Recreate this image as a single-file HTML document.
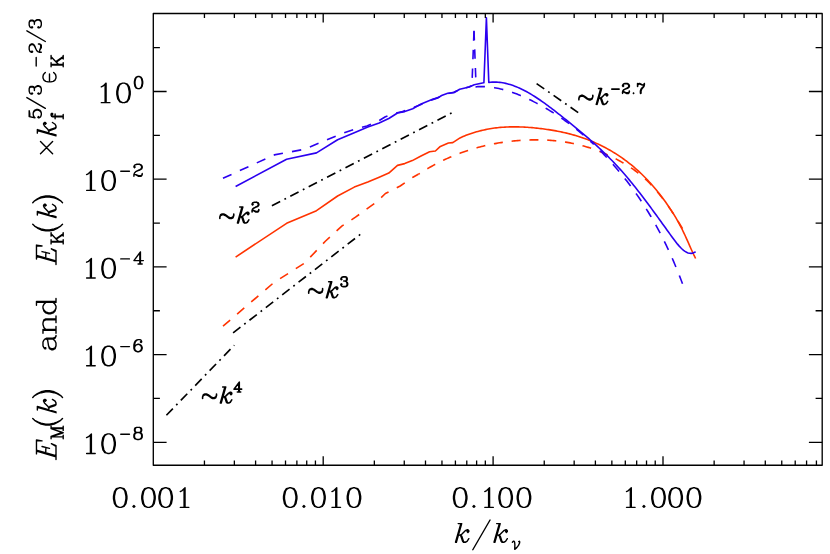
<!DOCTYPE html>
<html><head><meta charset="utf-8"><title>spectra</title>
<style>html,body{margin:0;padding:0;background:#fff;font-family:"Liberation Sans",sans-serif;}svg{display:block}</style>
</head><body>
<svg width="830" height="554" viewBox="0 0 830 554">
<rect width="830" height="554" fill="#fff"/>
<path d="M235.60 257.10 L286.60 223.30 L316.50 210.70 L337.60 196.00 L354.30 187.10 L367.80 182.00 L379.20 177.20 L388.80 173.10 L397.50 165.40 L404.70 163.60 L412.30 160.60 L421.00 156.00 L429.60 151.70 L435.40 151.00 L439.80 146.80 L448.40 143.00 L452.80 142.60 L460.00 137.90 L460.00 137.90 L461.50 137.23 L463.00 136.58 L464.50 135.96 L466.00 135.36 L467.50 134.79 L469.00 134.24 L470.50 133.71 L472.01 133.20 L473.51 132.72 L475.01 132.26 L476.51 131.82 L478.01 131.40 L479.51 131.00 L481.01 130.62 L482.51 130.26 L484.01 129.92 L485.51 129.60 L487.01 129.30 L488.51 129.02 L490.01 128.76 L491.51 128.52 L493.01 128.29 L494.51 128.08 L496.02 127.89 L497.52 127.72 L499.02 127.56 L500.52 127.42 L502.02 127.30 L503.52 127.19 L505.02 127.09 L506.52 127.01 L508.02 126.95 L509.52 126.90 L511.02 126.87 L512.52 126.84 L514.02 126.84 L515.52 126.84 L517.02 126.86 L518.52 126.89 L520.03 126.93 L521.53 126.99 L523.03 127.05 L524.53 127.13 L526.03 127.22 L527.53 127.32 L529.03 127.43 L530.53 127.55 L532.03 127.67 L533.53 127.81 L535.03 127.96 L536.53 128.11 L538.03 128.28 L539.53 128.45 L541.03 128.63 L542.54 128.82 L544.04 129.01 L545.54 129.22 L547.04 129.43 L548.54 129.65 L550.04 129.88 L551.54 130.13 L553.04 130.38 L554.54 130.64 L556.04 130.91 L557.54 131.19 L559.04 131.49 L560.54 131.79 L562.04 132.11 L563.54 132.44 L565.04 132.78 L566.55 133.13 L568.05 133.50 L569.55 133.88 L571.05 134.28 L572.55 134.68 L574.05 135.11 L575.55 135.54 L577.05 136.00 L578.55 136.46 L580.05 136.94 L581.55 137.44 L583.05 137.96 L584.55 138.49 L586.05 139.03 L587.55 139.60 L589.05 140.18 L590.56 140.78 L592.06 141.40 L593.56 142.03 L595.06 142.68 L596.56 143.36 L598.06 144.05 L599.56 144.76 L601.06 145.49 L602.56 146.24 L604.06 147.01 L605.56 147.80 L607.06 148.61 L608.56 149.44 L610.06 150.30 L611.56 151.18 L613.06 152.07 L614.57 153.00 L616.07 153.94 L617.57 154.91 L619.07 155.90 L620.57 156.91 L622.07 157.95 L623.57 159.01 L625.07 160.10 L626.57 161.22 L628.07 162.36 L629.57 163.53 L631.07 164.74 L632.57 165.97 L634.07 167.23 L635.57 168.52 L637.08 169.84 L638.58 171.20 L640.08 172.59 L641.58 174.02 L643.08 175.48 L644.58 176.97 L646.08 178.50 L647.58 180.07 L649.08 181.68 L650.58 183.33 L652.08 185.01 L653.58 186.74 L655.08 188.51 L656.58 190.32 L658.08 192.17 L659.58 194.06 L661.09 196.00 L662.59 197.98 L664.09 200.01 L665.59 202.09 L667.09 204.21 L668.59 206.38 L670.09 208.61 L671.59 210.90 L673.09 213.25 L674.59 215.68 L676.09 218.20 L677.59 220.81 L679.09 223.52 L680.59 226.33 L682.09 229.26 L683.59 232.31 L685.10 235.49 L686.60 238.80 L688.10 242.18 L689.60 245.58 L691.10 248.97 L692.60 252.28 L694.10 255.48 L695.60 258.50" fill="none" stroke="#ff3300" stroke-width="1.60" stroke-linejoin="round"/>
<path d="M223.00 326.20 L274.30 282.20 L304.50 263.20 L325.60 241.00 L342.10 225.90 L355.50 217.20 L366.90 208.80 L376.70 201.90 L385.40 193.50 L393.20 189.60 L400.20 186.00 L406.60 181.60 L412.50 177.50 L418.30 174.30" fill="none" stroke="#ff3300" stroke-width="1.60" stroke-linejoin="round" stroke-dasharray="9.4 9.2" stroke-dashoffset="0.00"/>
<path d="M418.30 174.30 L419.80 173.34 L421.31 172.39 L422.81 171.45 L424.32 170.54 L425.82 169.64 L427.32 168.75 L428.83 167.88 L430.33 167.03 L431.84 166.19 L433.34 165.37 L434.84 164.56 L436.35 163.77 L437.85 162.99 L439.36 162.23 L440.86 161.48 L442.36 160.75 L443.87 160.03 L445.37 159.33 L446.88 158.64 L448.38 157.97 L449.88 157.31 L451.39 156.66 L452.89 156.03 L454.40 155.41 L455.90 154.81 L457.40 154.22 L458.91 153.64 L460.41 153.08 L461.92 152.53 L463.42 151.99 L464.92 151.47 L466.43 150.96 L467.93 150.46 L469.44 149.98 L470.94 149.51 L472.44 149.05 L473.95 148.60 L475.45 148.17 L476.96 147.75 L478.46 147.34 L479.96 146.94 L481.47 146.55 L482.97 146.18 L484.48 145.82 L485.98 145.47 L487.48 145.13 L488.99 144.80 L490.49 144.49 L491.99 144.19 L493.50 143.89 L495.00 143.61 L496.51 143.34 L498.01 143.08 L499.51 142.83 L501.02 142.59 L502.52 142.37 L504.03 142.15 L505.53 141.94 L507.03 141.75 L508.54 141.56 L510.04 141.38 L511.55 141.22 L513.05 141.06 L514.55 140.91 L516.06 140.77 L517.56 140.65 L519.07 140.53 L520.57 140.42 L522.07 140.32 L523.58 140.23 L525.08 140.15 L526.59 140.07 L528.09 140.01 L529.59 139.96 L531.10 139.92 L532.60 139.88 L534.11 139.86 L535.61 139.85 L537.11 139.85 L538.62 139.86 L540.12 139.88 L541.63 139.92 L543.13 139.96 L544.63 140.02 L546.14 140.08 L547.64 140.16 L549.15 140.25 L550.65 140.36 L552.15 140.47 L553.66 140.60 L555.16 140.74 L556.67 140.89 L558.17 141.06 L559.67 141.24 L561.18 141.43 L562.68 141.64 L564.19 141.86 L565.69 142.09 L567.19 142.34 L568.70 142.60 L570.20 142.88 L571.71 143.17 L573.21 143.48 L574.71 143.80 L576.22 144.13 L577.72 144.48 L579.23 144.85 L580.73 145.23 L582.23 145.63 L583.74 146.04 L585.24 146.47 L586.75 146.91 L588.25 147.37 L589.75 147.85 L591.26 148.34 L592.76 148.85 L594.27 149.38 L595.77 149.92 L597.27 150.49 L598.78 151.07 L600.28 151.66 L601.79 152.28 L603.29 152.91 L604.79 153.56 L606.30 154.23 L607.80 154.91 L609.31 155.61 L610.81 156.33 L612.31 157.07 L613.82 157.83 L615.32 158.61 L616.83 159.40 L618.33 160.21 L619.83 161.04 L621.34 161.89 L622.84 162.75 L624.34 163.64 L625.85 164.54 L627.35 165.46 L628.86 166.41 L630.36 167.39 L631.86 168.39 L633.37 169.43 L634.87 170.50 L636.38 171.60 L637.88 172.74 L639.38 173.92 L640.89 175.15 L642.39 176.41 L643.90 177.73 L645.40 179.09 L646.90 180.51 L648.41 181.98 L649.91 183.50 L651.42 185.08 L652.92 186.71 L654.42 188.39 L655.93 190.13 L657.43 191.91 L658.94 193.75 L660.44 195.63 L661.94 197.57 L663.45 199.55 L664.95 201.58 L666.46 203.66 L667.96 205.78 L669.46 207.96 L670.97 210.17 L672.47 212.44 L673.98 214.75 L675.48 217.10 L676.98 219.49 L678.49 221.93 L679.99 224.41 L681.50 226.94 L683.00 229.50" fill="none" stroke="#ff3300" stroke-width="1.60" stroke-linejoin="round" stroke-dasharray="9.02 8.84" stroke-dashoffset="7.23"/>
<path d="M235.60 186.50 L286.60 159.20 L316.50 152.90 L337.60 139.80 L354.30 132.70 L367.80 127.10 L379.20 122.90 L388.80 118.50 L397.50 113.00 L404.70 111.60 L412.70 108.70 L421.10 103.90 L433.20 99.10 L438.00 97.90 L441.60 95.50 L447.70 93.30 L453.70 92.80 L459.70 89.20 L469.30 87.00 L474.20 84.80 L483.60 82.80 L483.90 82.70 L486.40 17.80 L488.80 82.40 L489.10 82.40 L489.10 82.40 L490.61 82.24 L492.11 82.14 L493.62 82.09 L495.13 82.08 L496.64 82.13 L498.14 82.22 L499.65 82.37 L501.16 82.55 L502.67 82.79 L504.17 83.06 L505.68 83.38 L507.19 83.75 L508.69 84.15 L510.20 84.59 L511.71 85.08 L513.22 85.60 L514.72 86.15 L516.23 86.75 L517.74 87.37 L519.25 88.04 L520.75 88.73 L522.26 89.46 L523.77 90.21 L525.28 91.00 L526.78 91.82 L528.29 92.66 L529.80 93.53 L531.30 94.43 L532.81 95.35 L534.32 96.29 L535.83 97.26 L537.33 98.24 L538.84 99.25 L540.35 100.28 L541.86 101.33 L543.36 102.39 L544.87 103.47 L546.38 104.56 L547.88 105.67 L549.39 106.80 L550.90 107.93 L552.41 109.08 L553.91 110.23 L555.42 111.40 L556.93 112.57 L558.44 113.76 L559.94 114.94 L561.45 116.14 L562.96 117.33 L564.46 118.53 L565.97 119.73 L567.48 120.94 L568.99 122.15 L570.49 123.36 L572.00 124.58 L573.51 125.80 L575.02 127.03 L576.52 128.27 L578.03 129.51 L579.54 130.76 L581.05 132.02 L582.55 133.29 L584.06 134.56 L585.57 135.85 L587.07 137.15 L588.58 138.45 L590.09 139.77 L591.60 141.10 L593.10 142.45 L594.61 143.80 L596.12 145.17 L597.63 146.56 L599.13 147.96 L600.64 149.37 L602.15 150.80 L603.65 152.25 L605.16 153.71 L606.67 155.19 L608.18 156.69 L609.68 158.21 L611.19 159.74 L612.70 161.30 L614.21 162.87 L615.71 164.47 L617.22 166.09 L618.73 167.73 L620.24 169.39 L621.74 171.08 L623.25 172.79 L624.76 174.52 L626.26 176.28 L627.77 178.06 L629.28 179.87 L630.79 181.69 L632.29 183.54 L633.80 185.41 L635.31 187.30 L636.82 189.21 L638.32 191.14 L639.83 193.08 L641.34 195.04 L642.84 197.02 L644.35 199.01 L645.86 201.01 L647.37 203.03 L648.87 205.05 L650.38 207.09 L651.89 209.14 L653.40 211.19 L654.90 213.25 L656.41 215.33 L657.92 217.40 L659.42 219.48 L660.93 221.57 L662.44 223.66 L663.95 225.75 L665.45 227.84 L666.96 229.93 L668.47 232.03 L669.98 234.12 L671.48 236.20 L672.99 238.27 L674.50 240.29 L676.01 242.26 L677.51 244.13 L679.02 245.89 L680.53 247.52 L682.03 249.00 L683.54 250.31 L685.05 251.41 L686.56 252.29 L688.06 252.93 L689.57 253.31 L691.08 253.39 L692.59 253.17 L694.09 252.61 L695.60 251.70" fill="none" stroke="#2b00f0" stroke-width="1.60" stroke-linejoin="round"/>
<path d="M222.95 178.30 L274.30 154.90 L304.50 149.30 L325.60 140.30 L342.10 133.50 L355.50 129.00 L366.90 126.00 L376.70 122.00 L385.40 116.80 L393.20 113.80 L402.50 111.60 L414.10 107.30 L419.90 105.00 L433.20 99.40 L438.00 97.40 L441.60 96.10 L447.70 93.70 L453.70 92.30 L459.70 89.70 L469.30 86.70 L471.60 85.60 L471.60 85.60" fill="none" stroke="#2b00f0" stroke-width="1.60" stroke-linejoin="round" stroke-dasharray="9.4 9.2" stroke-dashoffset="0.00"/>
<path d="M471.60 85.60 L471.90 86.30 L474.00 30.80" fill="none" stroke="#2b00f0" stroke-width="1.60" stroke-linejoin="round" stroke-dasharray="9.4 9.2" stroke-dashoffset="9.40"/>
<path d="M474.00 30.80 L476.10 87.00 L476.40 86.70 L477.90 86.62 L479.41 86.58 L480.91 86.56 L482.42 86.58 L483.92 86.62 L485.43 86.69 L486.93 86.80 L488.44 86.93 L489.94 87.08 L491.44 87.27 L492.95 87.48 L494.45 87.72 L495.96 87.98 L497.46 88.27 L498.97 88.58 L500.47 88.92 L501.97 89.28 L503.48 89.67 L504.98 90.08 L506.49 90.51 L507.99 90.96 L509.50 91.44 L511.00 91.93 L512.51 92.45 L514.01 92.99 L515.51 93.54 L517.02 94.12 L518.52 94.71 L520.03 95.33 L521.53 95.96 L523.04 96.61 L524.54 97.27 L526.04 97.95 L527.55 98.65 L529.05 99.36 L530.56 100.09 L532.06 100.83 L533.57 101.59 L535.07 102.36 L536.58 103.14 L538.08 103.94 L539.58 104.75 L541.09 105.57 L542.59 106.41 L544.10 107.26 L545.60 108.12 L547.11 109.00 L548.61 109.90 L550.11 110.81 L551.62 111.73 L553.12 112.67 L554.63 113.62 L556.13 114.59 L557.64 115.57 L559.14 116.57 L560.65 117.59 L562.15 118.62 L563.65 119.67 L565.16 120.73 L566.66 121.82 L568.17 122.91 L569.67 124.03 L571.18 125.16 L572.68 126.31 L574.18 127.48 L575.69 128.67 L577.19 129.87 L578.70 131.10 L580.20 132.34 L581.71 133.60 L583.21 134.88 L584.72 136.18 L586.22 137.49 L587.72 138.83 L589.23 140.19 L590.73 141.56 L592.24 142.96 L593.74 144.37" fill="none" stroke="#2b00f0" stroke-width="1.60" stroke-linejoin="round" stroke-dasharray="9.4 9.2" stroke-dashoffset="0.00"/>
<path d="M593.74 144.37 L595.25 145.81 L596.75 147.27 L598.25 148.75 L599.76 150.25 L601.26 151.77 L602.77 153.31 L604.27 154.87 L605.78 156.46 L607.28 158.06 L608.79 159.69 L610.29 161.35 L611.79 163.02 L613.30 164.72 L614.80 166.44 L616.31 168.18 L617.81 169.95 L619.32 171.74 L620.82 173.55 L622.32 175.39 L623.83 177.25 L625.33 179.14 L626.84 181.06 L628.34 183.01 L629.85 184.99 L631.35 187.00 L632.86 189.04 L634.36 191.12 L635.86 193.23 L637.37 195.38 L638.87 197.56 L640.38 199.79 L641.88 202.05 L643.39 204.35 L644.89 206.70 L646.39 209.08 L647.90 211.52 L649.40 213.99 L650.91 216.52 L652.41 219.09 L653.92 221.71 L655.42 224.38 L656.93 227.10 L658.43 229.87 L659.93 232.70 L661.44 235.59 L662.94 238.54 L664.45 241.55 L665.95 244.63 L667.46 247.79 L668.96 251.01 L670.46 254.31 L671.97 257.69 L673.47 261.16 L674.98 264.70 L676.48 268.34 L677.99 272.06 L679.49 275.88 L681.00 279.79 L682.50 283.80" fill="none" stroke="#2b00f0" stroke-width="1.60" stroke-linejoin="round" stroke-dasharray="9.4 9.2" stroke-dashoffset="9.54"/>
<path d="M271.90 205.70 L452.50 112.48" fill="none" stroke="#000" stroke-width="1.65" stroke-dasharray="9.3 4.8 1.8 4.8"/>
<path d="M233.10 332.90 L362.30 232.86" fill="none" stroke="#000" stroke-width="1.65" stroke-dasharray="9.3 4.8 1.8 4.8"/>
<path d="M166.40 415.30 L234.30 345.20" fill="none" stroke="#000" stroke-width="1.65" stroke-dasharray="9.3 4.8 1.8 4.8"/>
<path d="M536.60 83.60 L578.30 112.66" fill="none" stroke="#000" stroke-width="1.65" stroke-dasharray="9.3 4.8 1.8 4.8"/>
<rect x="153.30" y="13.50" width="668.90" height="451.70" fill="none" stroke="#000" stroke-width="1.35" stroke-linejoin="round"/>
<path d="M204.44 465.20 L204.44 460.60 M204.44 13.50 L204.44 18.10 M234.36 465.20 L234.36 460.60 M234.36 13.50 L234.36 18.10 M255.59 465.20 L255.59 460.60 M255.59 13.50 L255.59 18.10 M272.06 465.20 L272.06 460.60 M272.06 13.50 L272.06 18.10 M285.51 465.20 L285.51 460.60 M285.51 13.50 L285.51 18.10 M296.88 465.20 L296.88 460.60 M296.88 13.50 L296.88 18.10 M306.73 465.20 L306.73 460.60 M306.73 13.50 L306.73 18.10 M315.43 465.20 L315.43 460.60 M315.43 13.50 L315.43 18.10 M323.20 465.20 L323.20 456.20 M323.20 13.50 L323.20 22.50 M374.34 465.20 L374.34 460.60 M374.34 13.50 L374.34 18.10 M404.26 465.20 L404.26 460.60 M404.26 13.50 L404.26 18.10 M425.49 465.20 L425.49 460.60 M425.49 13.50 L425.49 18.10 M441.96 465.20 L441.96 460.60 M441.96 13.50 L441.96 18.10 M455.41 465.20 L455.41 460.60 M455.41 13.50 L455.41 18.10 M466.78 465.20 L466.78 460.60 M466.78 13.50 L466.78 18.10 M476.63 465.20 L476.63 460.60 M476.63 13.50 L476.63 18.10 M485.33 465.20 L485.33 460.60 M485.33 13.50 L485.33 18.10 M493.10 465.20 L493.10 456.20 M493.10 13.50 L493.10 22.50 M544.24 465.20 L544.24 460.60 M544.24 13.50 L544.24 18.10 M574.16 465.20 L574.16 460.60 M574.16 13.50 L574.16 18.10 M595.39 465.20 L595.39 460.60 M595.39 13.50 L595.39 18.10 M611.86 465.20 L611.86 460.60 M611.86 13.50 L611.86 18.10 M625.31 465.20 L625.31 460.60 M625.31 13.50 L625.31 18.10 M636.68 465.20 L636.68 460.60 M636.68 13.50 L636.68 18.10 M646.53 465.20 L646.53 460.60 M646.53 13.50 L646.53 18.10 M655.23 465.20 L655.23 460.60 M655.23 13.50 L655.23 18.10 M663.00 465.20 L663.00 456.20 M663.00 13.50 L663.00 22.50 M714.14 465.20 L714.14 460.60 M714.14 13.50 L714.14 18.10 M744.06 465.20 L744.06 460.60 M744.06 13.50 L744.06 18.10 M765.29 465.20 L765.29 460.60 M765.29 13.50 L765.29 18.10 M781.76 465.20 L781.76 460.60 M781.76 13.50 L781.76 18.10 M795.21 465.20 L795.21 460.60 M795.21 13.50 L795.21 18.10 M806.58 465.20 L806.58 460.60 M806.58 13.50 L806.58 18.10 M816.43 465.20 L816.43 460.60 M816.43 13.50 L816.43 18.10 M153.30 442.30 L166.60 442.30 M822.20 442.30 L808.90 442.30 M153.30 398.45 L159.90 398.45 M822.20 398.45 L815.60 398.45 M153.30 354.60 L166.60 354.60 M822.20 354.60 L808.90 354.60 M153.30 310.75 L159.90 310.75 M822.20 310.75 L815.60 310.75 M153.30 266.90 L166.60 266.90 M822.20 266.90 L808.90 266.90 M153.30 223.05 L159.90 223.05 M822.20 223.05 L815.60 223.05 M153.30 179.20 L166.60 179.20 M822.20 179.20 L808.90 179.20 M153.30 135.35 L159.90 135.35 M822.20 135.35 L815.60 135.35 M153.30 91.50 L166.60 91.50 M822.20 91.50 L808.90 91.50 M153.30 47.65 L159.90 47.65 M822.20 47.65 L815.60 47.65" fill="none" stroke="#000" stroke-width="1.3"/>
<path d="M113.50 496.19 L114.46 491.54 L116.37 488.75 L119.25 487.82 L121.16 487.82 L124.04 488.75 L125.95 491.54 L126.91 496.19 L126.91 498.98 L125.95 503.63 L124.04 506.42 L121.16 507.35 L119.25 507.35 L116.37 506.42 L114.46 503.63 L113.50 498.98 L113.50 496.19 M119.25 507.35 L117.33 506.42 L116.37 505.49 L115.42 503.63 L114.46 498.98 L114.46 496.19 L115.42 491.54 L116.37 489.68 L117.33 488.75 L119.25 487.82 M121.16 507.35 L123.08 506.42 L124.04 505.49 L124.99 503.63 L125.95 498.98 L125.95 496.19 L124.99 491.54 L124.04 489.68 L123.08 488.75 L121.16 487.82 M141.77 496.19 L142.73 491.54 L144.64 488.75 L147.52 487.82 L149.43 487.82 L152.31 488.75 L154.22 491.54 L155.18 496.19 L155.18 498.98 L154.22 503.63 L152.31 506.42 L149.43 507.35 L147.52 507.35 L144.64 506.42 L142.73 503.63 L141.77 498.98 L141.77 496.19 M147.52 507.35 L145.60 506.42 L144.64 505.49 L143.69 503.63 L142.73 498.98 L142.73 496.19 L143.69 491.54 L144.64 489.68 L145.60 488.75 L147.52 487.82 M149.43 507.35 L151.35 506.42 L152.31 505.49 L153.26 503.63 L154.22 498.98 L154.22 496.19 L153.26 491.54 L152.31 489.68 L151.35 488.75 L149.43 487.82 M158.94 496.19 L159.90 491.54 L161.81 488.75 L164.69 487.82 L166.60 487.82 L169.48 488.75 L171.39 491.54 L172.35 496.19 L172.35 498.98 L171.39 503.63 L169.48 506.42 L166.60 507.35 L164.69 507.35 L161.81 506.42 L159.90 503.63 L158.94 498.98 L158.94 496.19 M164.69 507.35 L162.77 506.42 L161.81 505.49 L160.86 503.63 L159.90 498.98 L159.90 496.19 L160.86 491.54 L161.81 489.68 L162.77 488.75 L164.69 487.82 M166.60 507.35 L168.52 506.42 L169.48 505.49 L170.43 503.63 L171.39 498.98 L171.39 496.19 L170.43 491.54 L169.48 489.68 L168.52 488.75 L166.60 487.82 M180.25 491.54 L182.17 490.61 L185.04 487.82 L185.04 507.35 M184.08 488.75 L184.08 507.35 M180.25 507.35 L188.87 507.35 M132.96 506.42 L133.92 505.49 L134.88 506.42 L133.92 507.35 L132.96 506.42 M283.50 496.19 L284.46 491.54 L286.37 488.75 L289.25 487.82 L291.16 487.82 L294.04 488.75 L295.95 491.54 L296.91 496.19 L296.91 498.98 L295.95 503.63 L294.04 506.42 L291.16 507.35 L289.25 507.35 L286.37 506.42 L284.46 503.63 L283.50 498.98 L283.50 496.19 M289.25 507.35 L287.33 506.42 L286.37 505.49 L285.42 503.63 L284.46 498.98 L284.46 496.19 L285.42 491.54 L286.37 489.68 L287.33 488.75 L289.25 487.82 M291.16 507.35 L293.08 506.42 L294.04 505.49 L294.99 503.63 L295.95 498.98 L295.95 496.19 L294.99 491.54 L294.04 489.68 L293.08 488.75 L291.16 487.82 M311.77 496.19 L312.73 491.54 L314.64 488.75 L317.52 487.82 L319.43 487.82 L322.31 488.75 L324.22 491.54 L325.18 496.19 L325.18 498.98 L324.22 503.63 L322.31 506.42 L319.43 507.35 L317.52 507.35 L314.64 506.42 L312.73 503.63 L311.77 498.98 L311.77 496.19 M317.52 507.35 L315.60 506.42 L314.64 505.49 L313.69 503.63 L312.73 498.98 L312.73 496.19 L313.69 491.54 L314.64 489.68 L315.60 488.75 L317.52 487.82 M319.43 507.35 L321.35 506.42 L322.31 505.49 L323.26 503.63 L324.22 498.98 L324.22 496.19 L323.26 491.54 L322.31 489.68 L321.35 488.75 L319.43 487.82 M331.94 491.54 L333.86 490.61 L336.73 487.82 L336.73 507.35 M335.77 488.75 L335.77 507.35 M331.94 507.35 L340.56 507.35 M347.25 496.19 L348.21 491.54 L350.12 488.75 L353.00 487.82 L354.91 487.82 L357.79 488.75 L359.70 491.54 L360.66 496.19 L360.66 498.98 L359.70 503.63 L357.79 506.42 L354.91 507.35 L353.00 507.35 L350.12 506.42 L348.21 503.63 L347.25 498.98 L347.25 496.19 M353.00 507.35 L351.08 506.42 L350.12 505.49 L349.17 503.63 L348.21 498.98 L348.21 496.19 L349.17 491.54 L350.12 489.68 L351.08 488.75 L353.00 487.82 M354.91 507.35 L356.83 506.42 L357.79 505.49 L358.74 503.63 L359.70 498.98 L359.70 496.19 L358.74 491.54 L357.79 489.68 L356.83 488.75 L354.91 487.82 M302.96 506.42 L303.92 505.49 L304.88 506.42 L303.92 507.35 L302.96 506.42 M453.50 496.19 L454.46 491.54 L456.37 488.75 L459.25 487.82 L461.16 487.82 L464.04 488.75 L465.95 491.54 L466.91 496.19 L466.91 498.98 L465.95 503.63 L464.04 506.42 L461.16 507.35 L459.25 507.35 L456.37 506.42 L454.46 503.63 L453.50 498.98 L453.50 496.19 M459.25 507.35 L457.33 506.42 L456.37 505.49 L455.42 503.63 L454.46 498.98 L454.46 496.19 L455.42 491.54 L456.37 489.68 L457.33 488.75 L459.25 487.82 M461.16 507.35 L463.08 506.42 L464.04 505.49 L464.99 503.63 L465.95 498.98 L465.95 496.19 L464.99 491.54 L464.04 489.68 L463.08 488.75 L461.16 487.82 M484.77 491.54 L486.69 490.61 L489.56 487.82 L489.56 507.35 M488.60 488.75 L488.60 507.35 M484.77 507.35 L493.39 507.35 M498.94 496.19 L499.90 491.54 L501.81 488.75 L504.69 487.82 L506.60 487.82 L509.48 488.75 L511.39 491.54 L512.35 496.19 L512.35 498.98 L511.39 503.63 L509.48 506.42 L506.60 507.35 L504.69 507.35 L501.81 506.42 L499.90 503.63 L498.94 498.98 L498.94 496.19 M504.69 507.35 L502.77 506.42 L501.81 505.49 L500.86 503.63 L499.90 498.98 L499.90 496.19 L500.86 491.54 L501.81 489.68 L502.77 488.75 L504.69 487.82 M506.60 507.35 L508.52 506.42 L509.48 505.49 L510.43 503.63 L511.39 498.98 L511.39 496.19 L510.43 491.54 L509.48 489.68 L508.52 488.75 L506.60 487.82 M517.25 496.19 L518.21 491.54 L520.12 488.75 L523.00 487.82 L524.91 487.82 L527.79 488.75 L529.70 491.54 L530.66 496.19 L530.66 498.98 L529.70 503.63 L527.79 506.42 L524.91 507.35 L523.00 507.35 L520.12 506.42 L518.21 503.63 L517.25 498.98 L517.25 496.19 M523.00 507.35 L521.08 506.42 L520.12 505.49 L519.17 503.63 L518.21 498.98 L518.21 496.19 L519.17 491.54 L520.12 489.68 L521.08 488.75 L523.00 487.82 M524.91 507.35 L526.83 506.42 L527.79 505.49 L528.74 503.63 L529.70 498.98 L529.70 496.19 L528.74 491.54 L527.79 489.68 L526.83 488.75 L524.91 487.82 M472.96 506.42 L473.92 505.49 L474.88 506.42 L473.92 507.35 L472.96 506.42 M626.50 491.54 L628.42 490.61 L631.29 487.82 L631.29 507.35 M630.33 488.75 L630.33 507.35 M626.50 507.35 L635.12 507.35 M651.77 496.19 L652.73 491.54 L654.64 488.75 L657.52 487.82 L659.43 487.82 L662.31 488.75 L664.22 491.54 L665.18 496.19 L665.18 498.98 L664.22 503.63 L662.31 506.42 L659.43 507.35 L657.52 507.35 L654.64 506.42 L652.73 503.63 L651.77 498.98 L651.77 496.19 M657.52 507.35 L655.60 506.42 L654.64 505.49 L653.69 503.63 L652.73 498.98 L652.73 496.19 L653.69 491.54 L654.64 489.68 L655.60 488.75 L657.52 487.82 M659.43 507.35 L661.35 506.42 L662.31 505.49 L663.26 503.63 L664.22 498.98 L664.22 496.19 L663.26 491.54 L662.31 489.68 L661.35 488.75 L659.43 487.82 M668.94 496.19 L669.90 491.54 L671.81 488.75 L674.69 487.82 L676.60 487.82 L679.48 488.75 L681.39 491.54 L682.35 496.19 L682.35 498.98 L681.39 503.63 L679.48 506.42 L676.60 507.35 L674.69 507.35 L671.81 506.42 L669.90 503.63 L668.94 498.98 L668.94 496.19 M674.69 507.35 L672.77 506.42 L671.81 505.49 L670.86 503.63 L669.90 498.98 L669.90 496.19 L670.86 491.54 L671.81 489.68 L672.77 488.75 L674.69 487.82 M676.60 507.35 L678.52 506.42 L679.48 505.49 L680.43 503.63 L681.39 498.98 L681.39 496.19 L680.43 491.54 L679.48 489.68 L678.52 488.75 L676.60 487.82 M687.25 496.19 L688.21 491.54 L690.12 488.75 L693.00 487.82 L694.91 487.82 L697.79 488.75 L699.70 491.54 L700.66 496.19 L700.66 498.98 L699.70 503.63 L697.79 506.42 L694.91 507.35 L693.00 507.35 L690.12 506.42 L688.21 503.63 L687.25 498.98 L687.25 496.19 M693.00 507.35 L691.08 506.42 L690.12 505.49 L689.17 503.63 L688.21 498.98 L688.21 496.19 L689.17 491.54 L690.12 489.68 L691.08 488.75 L693.00 487.82 M694.91 507.35 L696.83 506.42 L697.79 505.49 L698.74 503.63 L699.70 498.98 L699.70 496.19 L698.74 491.54 L697.79 489.68 L696.83 488.75 L694.91 487.82 M642.96 506.42 L643.92 505.49 L644.88 506.42 L643.92 507.35 L642.96 506.42 M101.30 86.84 L103.22 85.91 L106.09 83.12 L106.09 102.65 M105.13 84.05 L105.13 102.65 M101.30 102.65 L109.92 102.65 M116.80 91.49 L117.76 86.84 L119.67 84.05 L122.55 83.12 L124.46 83.12 L127.34 84.05 L129.25 86.84 L130.21 91.49 L130.21 94.28 L129.25 98.93 L127.34 101.72 L124.46 102.65 L122.55 102.65 L119.67 101.72 L117.76 98.93 L116.80 94.28 L116.80 91.49 M122.55 102.65 L120.63 101.72 L119.67 100.79 L118.72 98.93 L117.76 94.28 L117.76 91.49 L118.72 86.84 L119.67 84.98 L120.63 84.05 L122.55 83.12 M124.46 102.65 L126.38 101.72 L127.34 100.79 L128.29 98.93 L129.25 94.28 L129.25 91.49 L128.29 86.84 L127.34 84.98 L126.38 84.05 L124.46 83.12 M134.40 81.73 L134.99 78.84 L136.18 77.11 L137.97 76.53 L139.15 76.53 L140.94 77.11 L142.13 78.84 L142.72 81.73 L142.72 83.46 L142.13 86.34 L140.94 88.07 L139.15 88.65 L137.97 88.65 L136.18 88.07 L134.99 86.34 L134.40 83.46 L134.40 81.73 M137.97 88.65 L136.78 88.07 L136.18 87.50 L135.59 86.34 L134.99 83.46 L134.99 81.73 L135.59 78.84 L136.18 77.69 L136.78 77.11 L137.97 76.53 M139.15 88.65 L140.34 88.07 L140.94 87.50 L141.53 86.34 L142.13 83.46 L142.13 81.73 L141.53 78.84 L140.94 77.69 L140.34 77.11 L139.15 76.53 M86.60 174.54 L88.52 173.61 L91.39 170.82 L91.39 190.35 M90.43 171.75 L90.43 190.35 M86.60 190.35 L95.22 190.35 M101.90 179.19 L102.86 174.54 L104.77 171.75 L107.65 170.82 L109.56 170.82 L112.44 171.75 L114.35 174.54 L115.31 179.19 L115.31 181.98 L114.35 186.63 L112.44 189.42 L109.56 190.35 L107.65 190.35 L104.77 189.42 L102.86 186.63 L101.90 181.98 L101.90 179.19 M107.65 190.35 L105.73 189.42 L104.77 188.49 L103.82 186.63 L102.86 181.98 L102.86 179.19 L103.82 174.54 L104.77 172.68 L105.73 171.75 L107.65 170.82 M109.56 190.35 L111.48 189.42 L112.44 188.49 L113.39 186.63 L114.35 181.98 L114.35 179.19 L113.39 174.54 L112.44 172.68 L111.48 171.75 L109.56 170.82 M120.75 171.20 L129.45 171.20 M133.90 176.35 L133.90 174.62 L134.49 172.89 L135.68 171.73 L139.25 170.00 L141.03 168.85 L141.63 167.69 L141.63 166.54 L141.03 165.39 L140.44 164.81 L139.25 164.23 L141.03 164.81 L141.63 165.39 L142.22 166.54 L142.22 167.69 L141.63 168.85 L139.84 170.00 L138.06 170.58 M142.22 174.62 L141.63 175.20 L140.44 175.77 L138.65 175.77 L135.68 174.62 L138.65 176.35 L141.03 176.35 L141.63 175.77 L142.22 174.62 L142.22 173.47 M134.49 166.54 L135.09 167.12 L134.49 167.69 L133.90 167.12 L133.90 166.54 L134.49 165.39 L135.09 164.81 L136.87 164.23 L139.25 164.23 M133.90 175.20 L134.49 174.62 L135.68 174.62 M86.60 262.24 L88.52 261.31 L91.39 258.52 L91.39 278.05 M90.43 259.45 L90.43 278.05 M86.60 278.05 L95.22 278.05 M101.90 266.89 L102.86 262.24 L104.77 259.45 L107.65 258.52 L109.56 258.52 L112.44 259.45 L114.35 262.24 L115.31 266.89 L115.31 269.68 L114.35 274.33 L112.44 277.12 L109.56 278.05 L107.65 278.05 L104.77 277.12 L102.86 274.33 L101.90 269.68 L101.90 266.89 M107.65 278.05 L105.73 277.12 L104.77 276.19 L103.82 274.33 L102.86 269.68 L102.86 266.89 L103.82 262.24 L104.77 260.38 L105.73 259.45 L107.65 258.52 M109.56 278.05 L111.48 277.12 L112.44 276.19 L113.39 274.33 L114.35 269.68 L114.35 266.89 L113.39 262.24 L112.44 260.38 L111.48 259.45 L109.56 258.52 M120.75 258.90 L129.45 258.90 M143.41 260.59 L133.90 260.59 L140.44 251.93 L140.44 264.05 M139.84 253.09 L139.84 264.05 M138.06 264.05 L142.22 264.05 M86.60 349.94 L88.52 349.01 L91.39 346.22 L91.39 365.75 M90.43 347.15 L90.43 365.75 M86.60 365.75 L95.22 365.75 M101.90 354.59 L102.86 349.94 L104.77 347.15 L107.65 346.22 L109.56 346.22 L112.44 347.15 L114.35 349.94 L115.31 354.59 L115.31 357.38 L114.35 362.03 L112.44 364.82 L109.56 365.75 L107.65 365.75 L104.77 364.82 L102.86 362.03 L101.90 357.38 L101.90 354.59 M107.65 365.75 L105.73 364.82 L104.77 363.89 L103.82 362.03 L102.86 357.38 L102.86 354.59 L103.82 349.94 L104.77 348.08 L105.73 347.15 L107.65 346.22 M109.56 365.75 L111.48 364.82 L112.44 363.89 L113.39 362.03 L114.35 357.38 L114.35 354.59 L113.39 349.94 L112.44 348.08 L111.48 347.15 L109.56 346.22 M120.75 346.60 L129.45 346.60 M138.06 339.63 L136.87 340.21 L135.68 341.36 L135.09 342.52 L134.49 344.83 L134.49 348.29 L135.09 350.02 L136.28 351.17 L137.47 351.75 L135.68 351.17 L134.49 350.02 L133.90 348.29 L133.90 344.83 L134.49 342.52 L135.09 341.36 L136.28 340.21 L138.06 339.63 L139.84 339.63 L141.03 340.21 L141.63 341.36 L141.63 341.94 L141.03 342.52 L140.44 341.94 L141.03 341.36 M134.49 347.71 L135.09 345.98 L136.28 344.83 L138.06 344.25 L138.65 344.25 L140.44 344.83 L141.63 345.98 L142.22 347.71 L142.22 348.29 L141.63 350.02 L140.44 351.17 L138.65 351.75 L137.47 351.75 M138.65 344.25 L139.84 344.83 L141.03 345.98 L141.63 347.71 L141.63 348.29 L141.03 350.02 L139.84 351.17 L138.65 351.75 M86.60 437.64 L88.52 436.71 L91.39 433.92 L91.39 453.45 M90.43 434.85 L90.43 453.45 M86.60 453.45 L95.22 453.45 M101.90 442.29 L102.86 437.64 L104.77 434.85 L107.65 433.92 L109.56 433.92 L112.44 434.85 L114.35 437.64 L115.31 442.29 L115.31 445.08 L114.35 449.73 L112.44 452.52 L109.56 453.45 L107.65 453.45 L104.77 452.52 L102.86 449.73 L101.90 445.08 L101.90 442.29 M107.65 453.45 L105.73 452.52 L104.77 451.59 L103.82 449.73 L102.86 445.08 L102.86 442.29 L103.82 437.64 L104.77 435.78 L105.73 434.85 L107.65 433.92 M109.56 453.45 L111.48 452.52 L112.44 451.59 L113.39 449.73 L114.35 445.08 L114.35 442.29 L113.39 437.64 L112.44 435.78 L111.48 434.85 L109.56 433.92 M120.75 434.30 L129.45 434.30 M135.09 431.95 L136.87 432.53 L135.09 433.10 L134.49 433.68 L133.90 434.83 L133.90 437.14 L134.49 438.30 L135.09 438.87 L136.87 439.45 L139.25 439.45 L141.03 438.87 L141.63 438.30 L142.22 437.14 L142.22 434.83 L141.63 433.68 L141.03 433.10 L139.25 432.53 L141.03 431.95 L141.63 430.80 L141.63 429.06 L141.03 427.91 L139.25 427.33 L136.87 427.33 L135.09 427.91 L134.49 429.06 L134.49 430.80 L135.09 431.95 M139.25 439.45 L140.44 438.87 L141.03 438.30 L141.63 437.14 L141.63 434.83 L141.03 433.68 L140.44 433.10 L139.25 432.53 L136.87 432.53 L135.68 433.10 L135.09 433.68 L134.49 434.83 L134.49 437.14 L135.09 438.30 L135.68 438.87 L136.87 439.45 M136.87 427.33 L135.68 427.91 L135.09 429.06 L135.09 430.80 L135.68 431.95 L136.87 432.53 M139.25 427.33 L140.44 427.91 L141.03 429.06 L141.03 430.80 L140.44 431.95 L139.25 432.53 M456.39 542.25 L461.72 523.60 L458.16 523.60 M455.50 542.25 L460.83 523.60 M467.93 530.70 L467.05 531.59 L467.93 532.48 L468.82 531.59 L468.82 530.70 L467.93 529.82 L467.05 529.82 L465.27 530.70 L461.72 534.26 L459.94 535.14 L461.72 536.03 L463.49 541.36 L464.38 542.25 M458.16 535.14 L459.94 535.14 L460.83 536.03 L462.61 541.36 L463.49 542.25 L465.27 542.25 L467.05 541.36 L468.82 538.70 M472.80 549.76 L490.04 520.00 M494.89 542.25 L500.22 523.60 L496.66 523.60 M494.00 542.25 L499.33 523.60 M506.43 530.70 L505.55 531.59 L506.43 532.48 L507.32 531.59 L507.32 530.70 L506.43 529.82 L505.55 529.82 L503.77 530.70 L500.22 534.26 L498.44 535.14 L500.22 536.03 L501.99 541.36 L502.88 542.25 M496.66 535.14 L498.44 535.14 L499.33 536.03 L501.11 541.36 L501.99 542.25 L503.77 542.25 L505.55 541.36 L507.32 538.70 M512.40 542.14 L513.27 541.27 L514.13 541.27 L514.59 542.14 L514.88 544.73 L514.71 549.35 L516.73 547.62 L518.46 545.31 L519.50 543.29 L519.73 541.85 L519.32 541.27 L518.75 541.56 M56.00 455.78 L36.47 450.20 M56.00 456.71 L36.47 451.13 M36.47 453.92 L36.47 439.97 L42.05 440.90 L36.47 440.90 M56.00 459.50 L56.00 445.55 L51.35 443.69 L56.00 446.48 M49.49 448.34 L42.05 446.48 M45.77 452.99 L45.77 447.41 M63.20 436.92 L51.08 436.92 L63.20 432.76 L51.08 428.60 L63.20 428.60 M51.08 428.00 L63.20 428.00 M51.08 438.70 L51.08 436.32 L61.47 432.76 M63.20 430.38 L63.20 426.22 M63.20 438.70 L63.20 435.13 M51.08 428.60 L51.08 426.22 M62.51 418.39 L60.65 420.31 L56.93 422.23 L54.14 423.18 L49.49 424.14 L45.77 424.14 L41.12 423.18 L38.33 422.23 L34.61 420.31 L32.75 418.39 M60.65 420.31 L57.86 422.23 L54.14 424.14 L49.49 425.10 L45.77 425.10 L41.12 424.14 L37.40 422.23 L34.61 420.31 M56.00 411.81 L37.35 406.48 L37.35 410.04 M56.00 412.70 L37.35 407.37 M44.45 400.27 L45.34 401.15 L46.23 400.27 L45.34 399.38 L44.45 399.38 L43.57 400.27 L43.57 401.15 L44.45 402.93 L48.01 406.48 L48.89 408.26 L49.78 406.48 L55.11 404.71 L56.00 403.82 M48.89 410.04 L48.89 408.26 L49.78 407.37 L55.11 405.59 L56.00 404.71 L56.00 402.93 L55.11 401.15 L52.45 399.38 M32.75 397.50 L34.61 395.58 L38.33 393.67 L41.12 392.71 L45.77 391.75 L49.49 391.75 L54.14 392.71 L56.93 393.67 L60.65 395.58 L62.51 397.50 M34.61 395.58 L37.40 393.67 L41.12 391.75 L45.77 390.79 L49.49 390.79 L54.14 391.75 L57.86 393.67 L60.65 395.58 M53.21 339.16 L55.07 338.21 L56.00 336.29 L55.07 337.25 L53.21 338.21 L46.70 338.21 L44.84 339.16 L53.21 339.16 L55.07 341.08 L56.00 342.99 L56.00 345.87 L55.07 348.74 L53.21 349.70 L51.35 349.70 L49.49 348.74 L48.56 345.87 L47.63 340.12 L46.70 339.16 M44.84 347.78 L45.77 347.78 L45.77 348.74 L44.84 348.74 L43.91 347.78 L42.98 345.87 L42.98 342.04 L43.91 340.12 L44.84 339.16 M56.00 345.87 L55.07 347.78 L53.21 348.74 L51.35 348.74 L49.49 347.78 L48.56 345.87 M56.00 336.29 L56.00 335.33 M42.98 330.33 L56.00 330.33 M42.98 333.20 L42.98 329.37 L56.00 329.37 M56.00 318.83 L45.77 318.83 L43.91 319.79 L42.98 322.66 L43.91 320.75 L45.77 319.79 L56.00 319.79 M56.00 322.66 L56.00 315.96 M56.00 333.20 L56.00 326.49 M45.77 329.37 L43.91 327.45 L42.98 324.58 L42.98 322.66 M36.47 302.41 L56.00 302.41 L56.00 298.57 M36.47 305.28 L36.47 301.45 L56.00 301.45 M53.21 302.41 L55.07 304.32 L56.00 306.24 L56.00 308.15 L55.07 311.03 L53.21 312.94 L50.42 313.90 L48.56 313.90 L45.77 312.94 L43.91 311.03 L42.98 308.15 L42.98 306.24 L43.91 304.32 L45.77 302.41 M42.98 308.15 L43.91 310.07 L45.77 311.98 L48.56 312.94 L50.42 312.94 L53.21 311.98 L55.07 310.07 L56.00 308.15 M56.00 260.88 L36.47 255.30 M56.00 261.81 L36.47 256.23 M36.47 259.02 L36.47 245.07 L42.05 246.00 L36.47 246.00 M56.00 264.60 L56.00 250.65 L51.35 248.79 L56.00 251.58 M49.49 253.44 L42.05 251.58 M45.77 258.09 L45.77 252.51 M51.08 241.52 L63.20 241.52 M51.08 242.12 L63.20 242.12 M58.58 241.52 L51.08 233.80 M56.28 238.55 L63.20 233.80 M56.28 239.15 L63.20 234.39 M63.20 243.90 L63.20 239.74 M51.08 243.90 L51.08 239.74 M51.08 236.17 L51.08 232.61 M63.20 236.17 L63.20 232.61 M62.51 224.19 L60.65 226.11 L56.93 228.03 L54.14 228.98 L49.49 229.94 L45.77 229.94 L41.12 228.98 L38.33 228.03 L34.61 226.11 L32.75 224.19 M60.65 226.11 L57.86 228.03 L54.14 229.94 L49.49 230.90 L45.77 230.90 L41.12 229.94 L37.40 228.03 L34.61 226.11 M56.00 216.71 L37.35 211.38 L37.35 214.94 M56.00 217.60 L37.35 212.27 M44.45 205.17 L45.34 206.05 L46.23 205.17 L45.34 204.28 L44.45 204.28 L43.57 205.17 L43.57 206.05 L44.45 207.83 L48.01 211.38 L48.89 213.16 L49.78 211.38 L55.11 209.61 L56.00 208.72 M48.89 214.94 L48.89 213.16 L49.78 212.27 L55.11 210.49 L56.00 209.61 L56.00 207.83 L55.11 206.05 L52.45 204.28 M32.75 202.70 L34.61 200.78 L38.33 198.87 L41.12 197.91 L45.77 196.95 L49.49 196.95 L54.14 197.91 L56.93 198.87 L60.65 200.78 L62.51 202.70 M34.61 200.78 L37.40 198.87 L41.12 196.95 L45.77 195.99 L49.49 195.99 L54.14 196.95 L57.86 198.87 L60.65 200.78 M56.00 134.91 L37.35 129.58 L37.35 133.14 M56.00 135.80 L37.35 130.47 M44.45 123.37 L45.34 124.25 L46.23 123.37 L45.34 122.48 L44.45 122.48 L43.57 123.37 L43.57 124.25 L44.45 126.03 L48.01 129.58 L48.89 131.36 L49.78 129.58 L55.11 127.81 L56.00 126.92 M48.89 133.14 L48.89 131.36 L49.78 130.47 L55.11 128.69 L56.00 127.81 L56.00 126.03 L55.11 124.25 L52.45 122.48 M51.66 113.95 L52.24 114.54 L52.81 113.95 L52.24 113.35 L51.66 113.35 L51.08 113.95 L51.08 115.13 L51.66 116.32 L52.81 116.92 L63.20 116.92 M51.08 115.13 L51.66 115.73 L52.81 116.32 L63.20 116.32 M55.12 118.70 L55.12 113.95 M63.20 118.70 L63.20 114.54 M38.99 117.21 L38.41 116.61 L37.84 117.21 L38.41 117.80 L38.99 117.80 L40.15 117.21 L40.72 116.61 L41.30 114.83 L41.30 113.05 L40.72 111.26 L39.57 110.07 L37.84 109.48 L36.68 109.48 L34.95 110.07 L33.80 111.26 L33.22 113.05 L33.22 114.83 L33.80 116.61 L34.95 117.80 L29.18 116.61 L29.18 110.67 L29.76 113.64 L29.76 116.61 M41.30 113.05 L40.72 111.86 L39.57 110.67 L37.84 110.07 L36.68 110.07 L34.95 110.67 L33.80 111.86 L33.22 113.05 M45.34 108.30 L26.88 97.60 M34.38 90.53 L34.38 88.75 L33.80 86.97 L32.64 86.37 L30.91 86.37 L29.76 86.97 L29.18 88.75 L29.18 91.13 L29.76 92.91 L30.34 93.51 L31.49 94.10 L32.07 94.10 L32.64 93.51 L32.07 92.91 L31.49 93.51 M38.99 93.51 L38.41 92.91 L37.84 93.51 L38.41 94.10 L38.99 94.10 L40.15 93.51 L40.72 92.91 L41.30 91.13 L41.30 88.75 L40.72 86.97 L40.15 86.37 L38.99 85.78 L37.26 85.78 L36.11 86.37 L34.95 87.56 L34.38 88.75 L33.80 87.56 L32.64 86.97 L30.91 86.97 L29.76 87.56 L29.18 88.75 M35.53 86.97 L37.26 86.37 L38.99 86.37 L40.15 86.97 L40.72 87.56 L41.30 88.75 M45.30 72.61 L43.45 74.52 L42.98 76.44 L42.98 78.07 L43.91 80.08 L45.77 81.42 L48.09 81.90 L50.88 81.90 L53.21 81.42 L55.07 80.08 L56.00 78.07 L56.00 76.44 L55.53 74.52 L53.67 72.61 M49.49 81.90 L49.49 74.05 M51.08 64.42 L63.20 64.42 M51.08 65.02 L63.20 65.02 M58.58 64.42 L51.08 56.70 M56.28 61.45 L63.20 56.70 M56.28 62.05 L63.20 57.29 M63.20 66.80 L63.20 62.64 M51.08 66.80 L51.08 62.64 M51.08 59.07 L51.08 55.51 M63.20 59.07 L63.20 55.51 M41.30 52.30 L39.57 52.30 L37.84 51.71 L36.68 50.52 L34.95 46.95 L33.80 45.17 L32.64 44.57 L31.49 44.57 L30.34 45.17 L29.76 45.76 L29.18 46.95 L29.76 45.17 L30.34 44.57 L31.49 43.98 L32.64 43.98 L33.80 44.57 L34.95 46.36 L35.53 48.14 M39.57 43.98 L40.15 44.57 L40.72 45.76 L40.72 47.55 L39.57 50.52 L41.30 47.55 L41.30 45.17 L40.72 44.57 L39.57 43.98 L38.41 43.98 M31.49 51.71 L32.07 51.11 L32.64 51.71 L32.07 52.30 L31.49 52.30 L30.34 51.71 L29.76 51.11 L29.18 49.33 L29.18 46.95 M40.15 52.30 L39.57 51.71 L39.57 50.52 M45.34 41.50 L26.88 30.80 M34.38 24.33 L34.38 22.55 L33.80 20.77 L32.64 20.17 L30.91 20.17 L29.76 20.77 L29.18 22.55 L29.18 24.93 L29.76 26.71 L30.34 27.31 L31.49 27.90 L32.07 27.90 L32.64 27.31 L32.07 26.71 L31.49 27.31 M38.99 27.31 L38.41 26.71 L37.84 27.31 L38.41 27.90 L38.99 27.90 L40.15 27.31 L40.72 26.71 L41.30 24.93 L41.30 22.55 L40.72 20.77 L40.15 20.17 L38.99 19.58 L37.26 19.58 L36.11 20.17 L34.95 21.36 L34.38 22.55 L33.80 21.36 L32.64 20.77 L30.91 20.77 L29.76 21.36 L29.18 22.55 M35.53 20.77 L37.26 20.17 L38.99 20.17 L40.15 20.77 L40.72 21.36 L41.30 22.55 M40.50 141.60 L52.60 153.70 M40.50 153.70 L52.60 141.60 M36.20 66.10 L36.20 57.40" fill="none" stroke="#000" stroke-width="1.40" stroke-linecap="round" stroke-linejoin="round"/>
<path d="M219.85 216.95 L220.62 214.70 L222.17 213.95 L223.71 213.95 L225.26 214.70 L228.35 216.95 L229.89 217.70 L231.44 217.70 L232.98 216.95 L233.76 215.45 L232.98 217.70 L231.44 218.45 L229.89 218.45 L228.35 217.70 L225.26 215.45 L223.71 214.70 L222.17 214.70 L220.62 215.45 L219.85 216.95 L219.85 218.45 M233.76 213.95 L233.76 215.45 M238.26 222.95 L242.80 207.04 L239.77 207.04 M237.50 222.95 L242.04 207.04 M248.10 213.10 L247.35 213.86 L248.10 214.62 L248.86 213.86 L248.86 213.10 L248.10 212.34 L247.35 212.34 L245.83 213.10 L242.80 216.13 L241.29 216.89 L242.80 217.65 L244.32 222.19 L245.07 222.95 M239.77 216.89 L241.29 216.89 L242.04 217.65 L243.56 222.19 L244.32 222.95 L245.83 222.95 L247.35 222.19 L248.86 219.92 M252.10 211.95 L252.10 210.55 L252.58 209.16 L253.54 208.23 L256.41 206.83 L257.85 205.91 L258.33 204.97 L258.33 204.04 L257.85 203.11 L257.37 202.65 L256.41 202.19 L257.85 202.65 L258.33 203.11 L258.81 204.04 L258.81 204.97 L258.33 205.91 L256.89 206.83 L255.45 207.30 M258.81 210.55 L258.33 211.02 L257.37 211.48 L255.93 211.48 L253.54 210.55 L255.93 211.95 L257.85 211.95 L258.33 211.48 L258.81 210.55 L258.81 209.62 M252.58 204.04 L253.06 204.51 L252.58 204.97 L252.10 204.51 L252.10 204.04 L252.58 203.11 L253.06 202.65 L254.49 202.19 L256.41 202.19 M252.10 211.02 L252.58 210.55 L253.54 210.55 M308.70 291.65 L309.47 289.40 L311.02 288.65 L312.56 288.65 L314.11 289.40 L317.20 291.65 L318.74 292.40 L320.29 292.40 L321.83 291.65 L322.60 290.15 L321.83 292.40 L320.29 293.15 L318.74 293.15 L317.20 292.40 L314.11 290.15 L312.56 289.40 L311.02 289.40 L309.47 290.15 L308.70 291.65 L308.70 293.15 M322.60 288.65 L322.60 290.15 M327.16 297.65 L331.70 281.74 L328.67 281.74 M326.40 297.65 L330.95 281.74 M337.00 287.80 L336.25 288.56 L337.00 289.32 L337.76 288.56 L337.76 287.80 L337.00 287.04 L336.25 287.04 L334.73 287.80 L331.70 290.83 L330.19 291.59 L331.70 292.35 L333.22 296.89 L333.98 297.65 M328.67 291.59 L330.19 291.59 L330.95 292.35 L332.46 296.89 L333.22 297.65 L334.73 297.65 L336.25 296.89 L337.76 294.62 M343.77 281.07 L345.21 281.07 L346.65 280.60 L347.13 279.67 L347.13 278.28 L346.65 277.35 L345.21 276.88 L343.29 276.88 L341.86 277.35 L341.38 277.81 L340.90 278.75 L340.90 279.21 L341.38 279.67 L341.86 279.21 L341.38 278.75 M341.38 284.79 L341.86 284.32 L341.38 283.86 L340.90 284.32 L340.90 284.79 L341.38 285.72 L341.86 286.19 L343.29 286.65 L345.21 286.65 L346.65 286.19 L347.13 285.72 L347.61 284.79 L347.61 283.39 L347.13 282.46 L346.17 281.53 L345.21 281.07 L346.17 280.60 L346.65 279.67 L346.65 278.28 L346.17 277.35 L345.21 276.88 M346.65 282.00 L347.13 283.39 L347.13 284.79 L346.65 285.72 L346.17 286.19 L345.21 286.65 M202.60 396.95 L203.37 394.70 L204.92 393.95 L206.46 393.95 L208.01 394.70 L211.10 396.95 L212.64 397.70 L214.19 397.70 L215.73 396.95 L216.51 395.45 L215.73 397.70 L214.19 398.45 L212.64 398.45 L211.10 397.70 L208.01 395.45 L206.46 394.70 L204.92 394.70 L203.37 395.45 L202.60 396.95 L202.60 398.45 M216.51 393.95 L216.51 395.45 M221.16 402.95 L225.70 387.04 L222.67 387.04 M220.40 402.95 L224.94 387.04 M231.00 393.10 L230.25 393.86 L231.00 394.62 L231.76 393.86 L231.76 393.10 L231.00 392.34 L230.25 392.34 L228.73 393.10 L225.70 396.13 L224.19 396.89 L225.70 397.65 L227.22 402.19 L227.97 402.95 M222.67 396.89 L224.19 396.89 L224.94 397.65 L226.46 402.19 L227.22 402.95 L228.73 402.95 L230.25 402.19 L231.76 399.92 M241.66 389.16 L234.00 389.16 L239.27 382.19 L239.27 391.95 M238.79 383.12 L238.79 391.95 M237.35 391.95 L240.71 391.95 M578.90 98.35 L579.67 96.10 L581.22 95.35 L582.76 95.35 L584.31 96.10 L587.40 98.35 L588.94 99.10 L590.49 99.10 L592.03 98.35 L592.81 96.85 L592.03 99.10 L590.49 99.85 L588.94 99.85 L587.40 99.10 L584.31 96.85 L582.76 96.10 L581.22 96.10 L579.67 96.85 L578.90 98.35 L578.90 99.85 M592.81 95.35 L592.81 96.85 M597.06 104.35 L601.60 88.44 L598.57 88.44 M596.30 104.35 L600.85 88.44 M606.90 94.50 L606.15 95.26 L606.90 96.02 L607.66 95.26 L607.66 94.50 L606.90 93.74 L606.15 93.74 L604.63 94.50 L601.60 97.53 L600.09 98.29 L601.60 99.05 L603.12 103.59 L603.88 104.35 M598.57 98.29 L600.09 98.29 L600.85 99.05 L602.36 103.59 L603.12 104.35 L604.63 104.35 L606.15 103.59 L607.66 101.32 M611.80 89.16 L619.10 89.16 M622.60 93.35 L622.60 91.95 L623.08 90.56 L624.04 89.63 L626.91 88.23 L628.35 87.30 L628.83 86.38 L628.83 85.44 L628.35 84.51 L627.87 84.05 L626.91 83.58 L628.35 84.05 L628.83 84.51 L629.31 85.44 L629.31 86.38 L628.83 87.30 L627.39 88.23 L625.95 88.70 M629.31 91.95 L628.83 92.42 L627.87 92.88 L626.43 92.88 L624.04 91.95 L626.43 93.35 L628.35 93.35 L628.83 92.88 L629.31 91.95 L629.31 91.02 M623.08 85.44 L623.56 85.91 L623.08 86.38 L622.60 85.91 L622.60 85.44 L623.08 84.51 L623.56 84.05 L624.99 83.58 L626.91 83.58 M622.60 92.42 L623.08 91.95 L624.04 91.95 M633.40 93.21 L633.54 93.07 L633.69 93.21 L633.54 93.35 L633.40 93.21 M637.60 83.58 L637.60 86.38 M638.08 84.51 L639.04 83.58 L639.99 83.58 L642.39 84.98 L639.99 84.05 L639.04 84.05 L638.08 84.51 L637.60 85.44 M640.95 93.35 L640.95 91.02 L641.43 89.63 L641.91 88.70 L643.83 86.38 L641.43 88.70 L640.95 89.63 L640.47 91.02 L640.47 93.35 M642.39 84.98 L643.35 84.98 L643.83 84.51 L644.31 83.58 L644.31 84.98 L643.83 86.38" fill="none" stroke="#000" stroke-width="1.60" stroke-linecap="round" stroke-linejoin="round"/>
</svg>
</body></html>
